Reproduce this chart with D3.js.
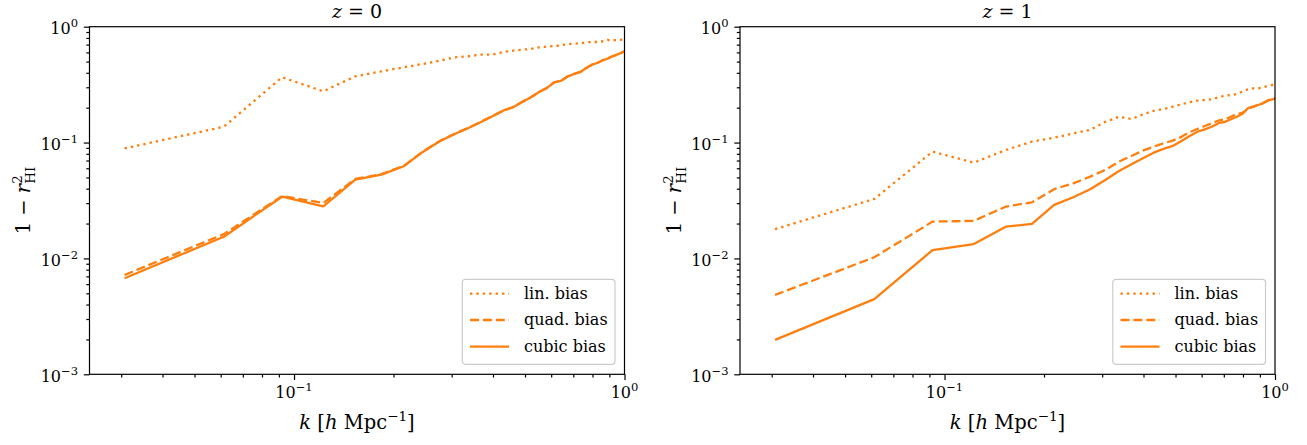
<!DOCTYPE html>
<html>
<head>
<meta charset="utf-8">
<script src="https://cdn.jsdelivr.net/npm/d3@7"></script>
<style>
  body { margin: 0; background: #fff; }
  text { font-family: "DejaVu Serif", serif; fill: #000; }
</style>
</head>
<body>
<svg id="chart" width="1307" height="445"></svg>
<script>
// k bins (h/Mpc)
const kValues = [0.0307, 0.0613, 0.0920, 0.1226, 0.1533, 0.1839, 0.2146, 0.2452, 0.2759, 0.3065,
  0.3372, 0.3678, 0.3985, 0.4291, 0.4598, 0.4904, 0.5211, 0.5517, 0.5824, 0.6130,
  0.6437, 0.6743, 0.7050, 0.7356, 0.7663, 0.7969, 0.8276, 0.8582, 0.8889, 0.9195,
  0.9502, 0.9808, 1.0115];

// z = 0
const linZ0 = [0.089, 0.137, 0.366, 0.277, 0.373, 0.412, 0.446, 0.477, 0.509, 0.544,
  0.556, 0.574, 0.574, 0.605, 0.621, 0.634, 0.642, 0.664, 0.672, 0.682,
  0.691, 0.709, 0.713, 0.719, 0.734, 0.738, 0.738, 0.748, 0.768, 0.763,
  0.768, 0.773, 0.778];
const quadZ0 = [0.0072, 0.0162, 0.0345, 0.0301, 0.0485, 0.0534, 0.0628, 0.0835, 0.1030, 0.1192,
  0.1342, 0.1512, 0.1690, 0.1890, 0.2020, 0.2245, 0.2465, 0.2735, 0.2965, 0.3315,
  0.3425, 0.3735, 0.3915, 0.4075, 0.4405, 0.4705, 0.4865, 0.5135, 0.5305, 0.5555,
  0.5745, 0.5975, 0.623];
const cubicZ0 = [0.00675, 0.0154, 0.0341, 0.0282, 0.0479, 0.0529, 0.0624, 0.083, 0.1026, 0.1187,
  0.1337, 0.1507, 0.1686, 0.1885, 0.2015, 0.224, 0.246, 0.273, 0.296, 0.331,
  0.342, 0.373, 0.391, 0.407, 0.440, 0.470, 0.486, 0.513, 0.530, 0.555,
  0.574, 0.597, 0.620];

// z = 1
const linZ1 = [0.0179, 0.0326, 0.0835, 0.0671, 0.0863, 0.102, 0.110, 0.120, 0.1285, 0.151,
  0.167, 0.160, 0.175, 0.188, 0.195, 0.204, 0.214, 0.223, 0.230, 0.233,
  0.236, 0.246, 0.254, 0.257, 0.263, 0.275, 0.288, 0.294, 0.294, 0.300,
  0.308, 0.314, 0.318];
const quadZ1 = [0.00484, 0.01023, 0.0208, 0.0211, 0.028, 0.0305, 0.0396, 0.0445, 0.0508, 0.058,
  0.0685, 0.0766, 0.0851, 0.0922, 0.0986, 0.104, 0.112, 0.123, 0.131, 0.139,
  0.147, 0.155, 0.159, 0.167, 0.177, 0.180, 0.196, 0.203, 0.212, 0.219,
  0.231, 0.238, 0.243];
const cubicZ1 = [0.00198, 0.00445, 0.0118, 0.0133, 0.0188, 0.0199, 0.029, 0.0337, 0.0395, 0.0476,
  0.0569, 0.0649, 0.0731, 0.0818, 0.0881, 0.0935, 0.103, 0.114, 0.124, 0.130,
  0.137, 0.147, 0.151, 0.159, 0.167, 0.177, 0.198, 0.204, 0.211, 0.218,
  0.230, 0.236, 0.240];

const seriesNames = ["lin. bias", "quad. bias", "cubic bias"];
const xMajor = [0.1, 1];
const xMinor = [0.03, 0.04, 0.05, 0.06, 0.07, 0.08, 0.09, 0.2, 0.3, 0.4, 0.5, 0.6, 0.7, 0.8, 0.9];
const yMajor = [1e-3, 1e-2, 1e-1, 1];
const yExp = { 1e-3: "−3", 1e-2: "−2", 1e-1: "−1", 1: "0" };
const xExp = { 0.1: "−1", 1: "0" };
const yMinor = [];
[1e-3, 1e-2, 1e-1].forEach((d) => [2, 3, 4, 5, 6, 7, 8, 9].forEach((m) => yMinor.push(+(d * m).toPrecision(2))));

const color = "#ff7f0e";
const dashes = ["2.4,4", "9,3.9", null];

const panels = [
  { z: "0", left: 89.5, data: [linZ0, quadZ0, cubicZ0] },
  { z: "1", left: 740, data: [linZ1, quadZ1, cubicZ1] },
];
const plotW = 535, plotTop = 26.7, plotH = 347.6;

const svg = d3.select("#chart");

panels.forEach((p, pi) => {
  const g = svg.append("g").attr("transform", `translate(${p.left},${plotTop})`);
  const x = d3.scaleLog().domain([0.02405, 1]).range([0, plotW]);
  const y = d3.scaleLog().domain([1e-3, 1]).range([plotH, 0]);

  // clip
  svg.append("clipPath").attr("id", `clip${pi}`)
    .append("rect").attr("width", plotW).attr("height", plotH);

  // lines
  const line = d3.line().x((d, i) => x(kValues[i])).y((d) => y(d));
  const lines = g.append("g").attr("clip-path", `url(#clip${pi})`);
  p.data.forEach((vals, si) => {
    lines.append("path")
      .datum(vals)
      .attr("d", line)
      .attr("fill", "none")
      .attr("stroke", color)
      .attr("stroke-width", 2.3)
      .attr("stroke-linejoin", "round")
      .attr("stroke-dasharray", dashes[si]);
  });

  // ticks
  const tickStyle = (sel) => {
    sel.select(".domain").remove();
    sel.selectAll("line").attr("stroke", "#000").attr("stroke-width", 1.2);
  };
  g.append("g").attr("transform", `translate(0,${plotH})`)
    .call(d3.axisBottom(x).tickValues(xMinor).tickSize(3.2).tickFormat(""))
    .call(tickStyle);
  g.append("g").attr("transform", `translate(0,${plotH})`)
    .call(d3.axisBottom(x).tickValues(xMajor).tickSize(5.7).tickFormat(""))
    .call(tickStyle);
  g.append("g")
    .call(d3.axisLeft(y).tickValues(yMinor).tickSize(3.2).tickFormat(""))
    .call(tickStyle);
  g.append("g")
    .call(d3.axisLeft(y).tickValues(yMajor).tickSize(5.7).tickFormat(""))
    .call(tickStyle);

  // tick labels
  xMajor.forEach((v) => {
    const t = g.append("text")
      .attr("x", x(v)).attr("y", plotH + 24)
      .attr("text-anchor", "middle")
      .attr("font-size", 16);
    t.append("tspan").text("10");
    t.append("tspan").attr("dy", -7).attr("font-size", 11.5).text(xExp[v]);
  });
  yMajor.forEach((v) => {
    const t = g.append("text")
      .attr("x", -11.5).attr("y", y(v) + 7.5)
      .attr("text-anchor", "end")
      .attr("font-size", 16);
    t.append("tspan").text("10");
    t.append("tspan").attr("dy", -7).attr("font-size", 11.5).text(yExp[v]);
  });

  // frame
  g.append("rect")
    .attr("width", plotW).attr("height", plotH)
    .attr("fill", "none").attr("stroke", "#000").attr("stroke-width", 1.2);

  // title
  const title = g.append("text")
    .attr("x", plotW / 2).attr("y", 18 - plotTop)
    .attr("text-anchor", "middle").attr("font-size", 19);
  title.append("tspan").attr("font-style", "italic").text("z");
  title.append("tspan").text(" = " + p.z);

  // x label
  const xl = g.append("text")
    .attr("x", plotW / 2).attr("y", 429 - plotTop)
    .attr("text-anchor", "middle").attr("font-size", 19.5);
  xl.append("tspan").attr("font-style", "italic").text("k");
  xl.append("tspan").text(" [");
  xl.append("tspan").attr("font-style", "italic").text("h");
  xl.append("tspan").text(" Mpc");
  xl.append("tspan").attr("dy", -8).attr("font-size", 13.5).text("−1");
  xl.append("tspan").attr("dy", 8).text("]");

  // y label
  const yl = g.append("text")
    .attr("transform", `translate(-59.5,${plotH / 2}) rotate(-90)`)
    .attr("text-anchor", "middle").attr("font-size", 19.5);
  yl.append("tspan").text("1 − ");
  yl.append("tspan").attr("font-style", "italic").text("r");
  yl.append("tspan").attr("dy", -8).attr("font-size", 13.5).text("2");
  yl.append("tspan").attr("dx", -8.6).attr("dy", 13).attr("font-size", 13.5).text("HI");

  // legend
  const lw = 152.7, lh = 85;
  const lg = g.append("g").attr("transform", `translate(${plotW - 9.5 - lw},${plotH - 10 - lh})`);
  lg.append("rect")
    .attr("width", lw).attr("height", lh).attr("rx", 3)
    .attr("fill", "#fff").attr("fill-opacity", 0.8)
    .attr("stroke", "#cccccc").attr("stroke-width", 1.2);
  seriesNames.forEach((name, si) => {
    const yy = [14.4, 40.7, 67.4][si];
    lg.append("line")
      .attr("x1", 7.7).attr("x2", 46.7).attr("y1", yy).attr("y2", yy)
      .attr("stroke", color).attr("stroke-width", 2.3)
      .attr("stroke-dasharray", dashes[si]);
    lg.append("text")
      .attr("x", 61.7).attr("y", yy + 5.5)
      .attr("font-size", 16)
      .text(name);
  });
});
</script>
</body>
</html>
